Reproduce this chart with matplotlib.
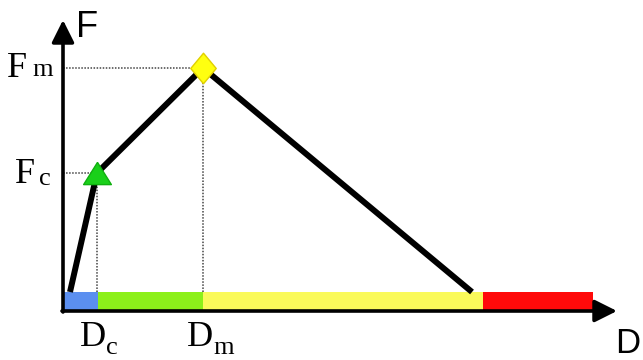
import matplotlib
matplotlib.use("Agg")
import matplotlib.pyplot as plt

# Force-displacement curve (arbitrary units)
curve_d = [7, 34, 140, 409]
curve_f = [19, 138, 243, 19]
d_c, f_c = 34, 138
d_m, f_m = 140, 243

# Damage-state bands along the displacement axis
band_edges = [-1, 35, 140, 420, 530]
band_colors = ["#5b8ff0", "#8cf01a", "#fafa5a", "#ff0a0a"]
band_height = 19

d_arrow_end = 554
f_arrow_end = 291

fig = plt.figure(figsize=(6.43, 3.60), dpi=100)
ax = fig.add_axes([0, 0, 1, 1])
ax.set_xlim(-63, 580)
ax.set_ylim(-49, 311)
ax.axis("off")

# coloured bands
for left, right, col in zip(band_edges[:-1], band_edges[1:], band_colors):
    ax.bar(left, band_height, width=right - left, align="edge", bottom=0,
           color=col, edgecolor="none", zorder=2)

# axes with arrow heads
arrow_kw = dict(arrowstyle="-|>", lw=2.6, color="black", mutation_scale=34,
                shrinkA=0, shrinkB=0)
ax.annotate("", xy=(0, f_arrow_end), xytext=(0, -1), arrowprops=arrow_kw, zorder=5)
ax.annotate("", xy=(d_arrow_end, 0), xytext=(-1, 0), arrowprops=arrow_kw, zorder=5)

# dotted guide lines
guide = dict(color="#444444", lw=1.1, ls=(0, (1, 1)), zorder=1)
ax.plot([0, d_m], [f_m, f_m], **guide)
ax.plot([d_m, d_m], [band_height, f_m], **guide)
ax.plot([0, d_c], [f_c, f_c], **guide)
ax.plot([d_c, d_c], [band_height, f_c], **guide)

# curve
ax.plot(curve_d, curve_f, color="black", lw=4.3, solid_capstyle="butt", zorder=3)

# markers
triangle = [(0, 0.8), (-1, -0.8), (1, -0.8), (0, 0.8)]
diamond = [(0, -1.2), (1, 0), (0, 1.2), (-1, 0), (0, -1.2)]
ax.plot([d_c], [f_c], marker=triangle, ms=20, color="#1ad01a", mec="#10b010",
        mew=1, zorder=4)
ax.plot([d_m], [f_m], marker=diamond, ms=22, color="#ffff10", mec="#e0d000",
        mew=1, zorder=4)

# labels
serif = "Liberation Serif"
sans = "Liberation Sans"
big, small = 26, 19
ax.text(-56, 234, "F", fontsize=big, family=serif, ha="left", va="baseline")
ax.text(-31, 235, "m", fontsize=small, family=serif, ha="left", va="baseline")
ax.text(-48, 128, "F", fontsize=big, family=serif, ha="left", va="baseline")
ax.text(-24, 126, "c", fontsize=small, family=serif, ha="left", va="baseline")
ax.text(d_c - 4, -35, "D", fontsize=big, family=serif, ha="center", va="baseline")
ax.text(d_c + 9, -43, "c", fontsize=small, family=serif, ha="left", va="baseline")
ax.text(d_m - 3, -35, "D", fontsize=big, family=serif, ha="center", va="baseline")
ax.text(d_m + 10, -43, "m", fontsize=small, family=serif, ha="left", va="baseline")
ax.text(24, 274, "F", fontsize=26, family=sans, ha="center", va="baseline")
ax.text(565, -42, "D", fontsize=25, family=sans, ha="center", va="baseline")

fig.savefig("out.png", dpi=100)
